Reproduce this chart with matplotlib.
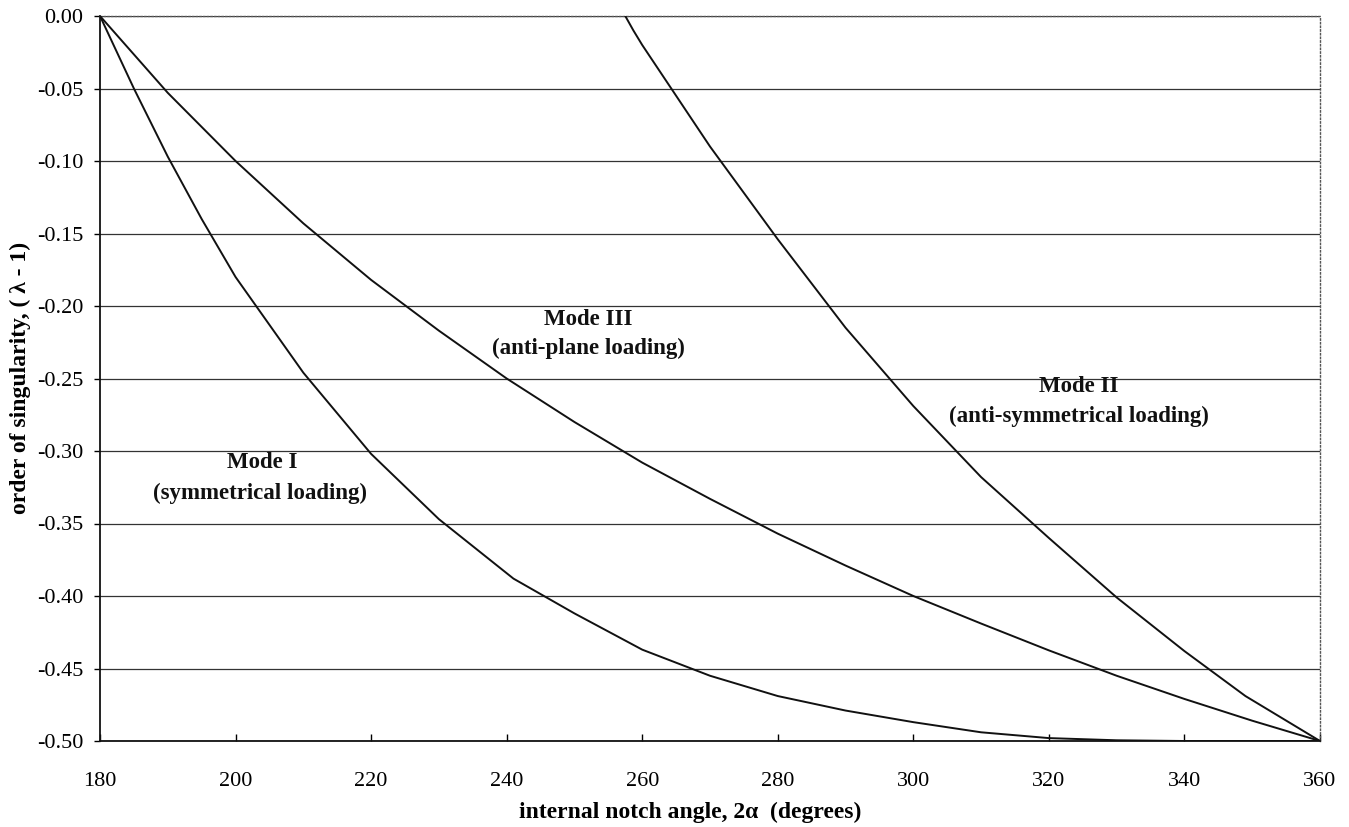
import matplotlib.pyplot as plt
from matplotlib.ticker import MultipleLocator, FormatStrFormatter

plt.rcParams['font.family'] = ['Liberation Serif', 'DejaVu Serif']
plt.rcParams['axes.unicode_minus'] = False

# values
mode1_angle = [180, 185, 190, 195, 200, 210, 220, 230, 241, 250, 260, 270,
               280, 290, 300, 310, 320, 330, 340, 350, 360]
mode1_order = [0.0, -0.05, -0.097, -0.14, -0.18, -0.246, -0.302, -0.347,
               -0.388, -0.412, -0.437, -0.455, -0.469, -0.479, -0.487,
               -0.494, -0.498, -0.4995, -0.5, -0.5, -0.5]

mode3_angle = [180, 190, 200, 210, 220, 230, 240, 250, 260, 270, 280, 290,
               300, 310, 320, 330, 340, 350, 360]
mode3_order = [0.0, -0.053, -0.10, -0.143, -0.182, -0.217, -0.25, -0.28,
               -0.308, -0.333, -0.357, -0.379, -0.40, -0.419, -0.4375,
               -0.455, -0.471, -0.486, -0.5]

mode2_angle = [257.5, 258.7, 260, 270, 280, 290, 300, 310, 320, 330, 340, 349, 360]
mode2_order = [0.0, -0.01, -0.02, -0.09, -0.154, -0.215, -0.269, -0.318,
               -0.36, -0.401, -0.438, -0.469, -0.5]

fig = plt.figure(figsize=(13.49, 8.27), dpi=100)
ax = fig.add_axes([100 / 1349, 86 / 827, 1220 / 1349, 725 / 827])

for xs, ys in [(mode1_angle, mode1_order), (mode3_angle, mode3_order),
               (mode2_angle, mode2_order)]:
    ax.plot(xs, ys, color="#111111", lw=1.4, zorder=3)

ax.set_xlim(180, 360)
ax.set_ylim(-0.5, 0)
ax.xaxis.set_major_locator(MultipleLocator(20))
ax.yaxis.set_major_locator(MultipleLocator(0.05))
ax.yaxis.set_major_formatter(FormatStrFormatter("%.2f"))

ax.yaxis.grid(True, color="#333333", lw=0.9)
ax.set_axisbelow(True)
for line in ax.get_ygridlines()[-1:]:
    line.set_visible(False)

ax.tick_params(axis="x", direction="in", length=5, width=1, pad=22, labelsize=16)
ax.tick_params(axis="y", direction="out", length=4, width=1, pad=8, labelsize=16)

for side in ["left", "bottom"]:
    ax.spines[side].set_color("#111111")
    ax.spines[side].set_linewidth(1.3)
for side in ["top", "right"]:
    ax.spines[side].set_color("#555555")
    ax.spines[side].set_linestyle(":")
    ax.spines[side].set_linewidth(1.0)

fig.text(690 / 1349, 1 - 812 / 827, "internal notch angle, 2\u03b1  (degrees)",
         ha="center", va="center", fontsize=17, fontweight="bold")
fig.text(20 / 1349, 1 - 378 / 827, "order of singularity, ( \u03bb - 1)",
         ha="center", va="center", rotation=90, fontsize=17, fontweight="bold")

labels = [
    (252.0, -0.209, "Mode III"),
    (252.0, -0.229, "(anti-plane loading)"),
    (204.0, -0.308, "Mode I"),
    (203.6, -0.329, "(symmetrical loading)"),
    (324.4, -0.2555, "Mode II"),
    (324.4, -0.276, "(anti-symmetrical loading)"),
]
for x, y, s in labels:
    ax.text(x, y, s, ha="center", va="center", fontsize=16.5, fontweight="bold",
            color="#111111")

fig.savefig("out.png", dpi=100)
